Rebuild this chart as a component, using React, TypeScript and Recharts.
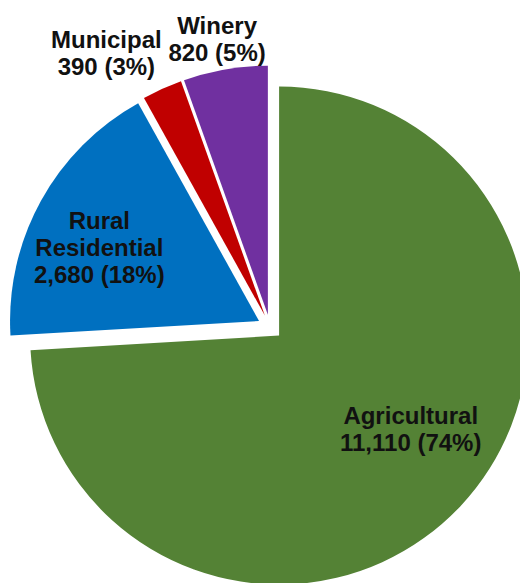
import React from 'react';
import { PieChart, Pie, Cell, Sector } from 'recharts';

const categories = ['Agricultural', 'Rural Residential', 'Municipal', 'Winery'];
const counts = [11110, 2680, 390, 820];
const percents = [74, 18, 3, 5];

const colors = ['#548235', '#0070C0', '#C00000', '#7030A0'];

// label placement around the pie: radius and angle shift from the slice bisector
const labelPlacement: Record<string, { r: number; shift: number }> = {
  'Agricultural': { r: 174, shift: 7.3 },
  'Rural Residential': { r: 188, shift: 4.0 },
  'Municipal': { r: 319, shift: 6.5 },
  'Winery': { r: 292, shift: 0.6 },
};

const EXPLODE = 12.5;
const RADIAN = Math.PI / 180;

const data = categories.map((name, i) => ({
  name,
  value: counts[i],
  pct: percents[i],
}));

const ExplodedSector = (props: any) => {
  const { cx, cy, midAngle } = props;
  const dx = EXPLODE * Math.cos(-midAngle * RADIAN);
  const dy = EXPLODE * Math.sin(-midAngle * RADIAN);
  return <Sector {...props} cx={cx + dx} cy={cy + dy} />;
};

const renderLabel = (props: any) => {
  const { cx, cy, midAngle, name, value, payload } = props;
  const place = labelPlacement[name];
  const a = (midAngle + place.shift) * RADIAN;
  const x = cx + place.r * Math.cos(-a);
  const y = cy + place.r * Math.sin(-a);
  const lines = name === 'Rural Residential' ? ['Rural', 'Residential'] : [name];
  lines.push(`${value.toLocaleString('en-US')} (${payload.pct}%)`);
  const lh = 27;
  return (
    <text
      x={x}
      y={y}
      textAnchor="middle"
      fill="#111"
      fontSize={24}
      fontWeight="bold"
      fontFamily="'Liberation Sans', Arial, sans-serif"
    >
      {lines.map((l, i) => (
        <tspan key={i} x={x} dy={i === 0 ? -((lines.length - 1) / 2) * lh + 8 : lh}>
          {l}
        </tspan>
      ))}
    </text>
  );
};

export default function App() {
  return (
    <div style={{ position: 'fixed', left: 0, top: 0, width: 520, height: 583, background: '#fff' }}>
      <PieChart width={520} height={583} margin={{ top: 0, right: 0, bottom: 0, left: 0 }}>
        <Pie
          data={data}
          dataKey="value"
          nameKey="name"
          cx={270}
          cy={327}
          outerRadius={249}
          startAngle={90}
          endAngle={-270}
          stroke="none"
          shape={ExplodedSector}
          label={renderLabel}
          labelLine={false}
          isAnimationActive={false}
        >
          {data.map((d, i) => (
            <Cell key={d.name} fill={colors[i]} />
          ))}
        </Pie>
      </PieChart>
    </div>
  );
}
